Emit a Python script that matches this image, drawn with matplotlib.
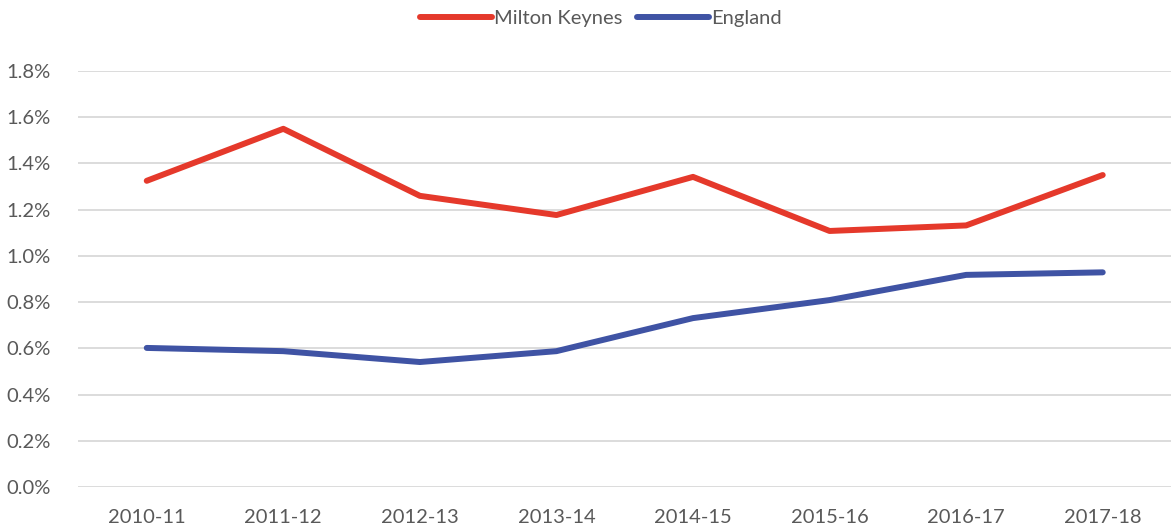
import matplotlib.pyplot as plt
from matplotlib.ticker import FuncFormatter

plt.rcParams['font.family'] = ['Lato', 'DejaVu Sans']

years = ["2010-11", "2011-12", "2012-13", "2013-14",
         "2014-15", "2015-16", "2016-17", "2017-18"]
milton_keynes = [1.325, 1.55, 1.26, 1.177, 1.342, 1.108, 1.132, 1.35]
england = [0.602, 0.588, 0.541, 0.588, 0.731, 0.809, 0.918, 0.929]

red = "#E5392B"
blue = "#3F53A4"
text_grey = "#595959"

fig = plt.figure(figsize=(11.71, 5.30), dpi=100)
ax = fig.add_axes([0.067, 0.081, 0.933, 0.785])

x = range(len(years))
ax.plot(x, milton_keynes, color=red, lw=4.3, solid_capstyle="round",
        solid_joinstyle="round", label="Milton Keynes")
ax.plot(x, england, color=blue, lw=4.3, solid_capstyle="round",
        solid_joinstyle="round", label="England")

ax.set_xlim(-0.5, len(years) - 0.5)
ax.set_ylim(0, 1.8)
ax.set_yticks([i * 0.2 for i in range(10)])
ax.yaxis.set_major_formatter(FuncFormatter(lambda v, p: f"{v:.1f}%"))
ax.set_xticks(list(x))
ax.set_xticklabels(years)

ax.grid(axis="y", color="#D9D9D9", lw=1.3)
ax.set_axisbelow(True)
for s in ax.spines.values():
    s.set_visible(False)
ax.tick_params(length=0, labelsize=14.5, colors=text_grey)
ax.tick_params(axis="x", pad=16)
ax.tick_params(axis="y", pad=20)

fig.legend(loc="center", bbox_to_anchor=(0.513, 0.965), ncol=2,
           frameon=False, fontsize=14.5, labelcolor=text_grey,
           handlelength=3.6, handletextpad=0.1, columnspacing=0.7)

plt.savefig("out.png", dpi=100)
